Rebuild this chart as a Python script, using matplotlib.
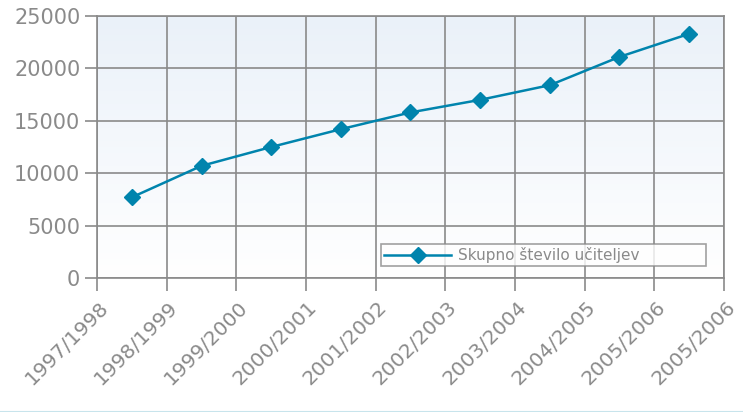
import matplotlib
matplotlib.use("Agg")
import matplotlib.pyplot as plt
import numpy as np
from matplotlib.lines import Line2D
from matplotlib.colors import LinearSegmentedColormap
import matplotlib.transforms as mtransforms

tick_labels = ["1997/1998", "1998/1999", "1999/2000", "2000/2001", "2001/2002",
               "2002/2003", "2003/2004", "2004/2005", "2005/2006", "2005/2006"]
values = [7700, 10700, 12500, 14200, 15800, 17000, 18400, 21100, 23300]
series_name = "Skupno število učiteljev"

plt.rcParams['font.family'] = ['DejaVu Sans']
grey = "#8a8a8a"
blue = "#0084ad"

fig = plt.figure(figsize=(7.43, 4.12), dpi=100)
ax = fig.add_axes([97/743, (412-278)/412, (724-97)/743, (278-16)/412])

# gradient background
grad = np.linspace(0, 1, 256).reshape(-1, 1)
cmap = LinearSegmentedColormap.from_list("bg", ["#ffffff", "#eaf1f9"])
ax.imshow(grad, aspect="auto", cmap=cmap, origin="lower",
          extent=[0, 1, 0, 1], transform=ax.transAxes, zorder=0)

x = np.arange(len(values)) + 0.5
ax.plot(x, values, color=blue, lw=1.8, marker="D", ms=8, mec=blue, mfc=blue,
        zorder=3, label=series_name)

ax.set_xlim(0, len(tick_labels) - 1)
ax.set_ylim(0, 25000)
ax.set_xticks(np.arange(len(tick_labels)))
ax.set_xticklabels(tick_labels, rotation=45, ha="right", va="top",
                   rotation_mode="anchor", fontsize=14.5, color=grey)
ax.set_yticks(np.arange(0, 25001, 5000))
ax.set_yticklabels([str(v) for v in range(0, 25001, 5000)], fontsize=15, color=grey)
ax.tick_params(axis="both", length=9, width=1.2, color=grey, pad=3)
ax.tick_params(axis="x", pad=5)
offset = mtransforms.ScaledTranslation(1.5/100, 0, fig.dpi_scale_trans)
for lab in ax.get_xticklabels():
    lab.set_transform(lab.get_transform() + offset)
ax.grid(True, color="#8a8a8a", lw=1.2, zorder=1)
ax.set_axisbelow(True)
for s in ax.spines.values():
    s.set_color("#8a8a8a")
    s.set_linewidth(1.2)

leg = ax.legend(loc="lower left",
                bbox_to_anchor=((381-97)/627, (278-266)/262, (706-381)/627, 22/262),
                mode="expand", fontsize=11, frameon=True, fancybox=False,
                borderpad=0.2, handlelength=4.4, handletextpad=0.45,
                borderaxespad=0, labelcolor=grey)
leg.get_frame().set_edgecolor("#8a8a8a")
leg.get_frame().set_linewidth(1.2)
leg.get_frame().set_facecolor("white")

fig.add_artist(Line2D([0, 1], [0.5/412, 0.5/412], color="#c8e4ec", lw=1.5,
                      transform=fig.transFigure))

fig.savefig("out.png", dpi=100)
